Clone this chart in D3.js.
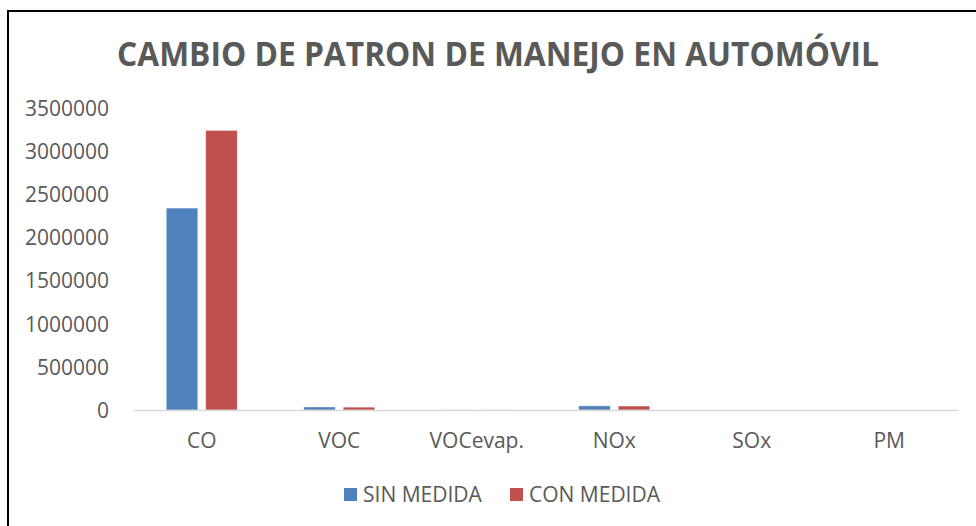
<!DOCTYPE html>
<html>
<head>
<meta charset="utf-8">
<script src="https://cdn.jsdelivr.net/npm/d3@7"></script>
<style>
  html, body { margin: 0; padding: 0; background: #fff; }
  svg { display: block; }
</style>
</head>
<body>
<svg id="chart" width="976" height="526"></svg>
<script>
const titleText = "CAMBIO DE PATRON DE MANEJO EN AUTOMÓVIL";
const categories = ["CO", "VOC", "VOCevap.", "NOx", "SOx", "PM"];
const seriesNames = ["SIN MEDIDA", "CON MEDIDA"];
const sinMedida = [2340000, 35000, 1000, 48000, 200, 400];
const conMedida = [3240000, 33000, 1000, 46000, 200, 400];
const yTicks = [0, 500000, 1000000, 1500000, 2000000, 2500000, 3000000, 3500000];
const colors = ["#4F81BD", "#C0504D"];

(function () {
const svg = d3.select("#chart");
const font = "'Open Sans', sans-serif";
const textColor = "#595959";

// outer frame (left and top edges visible)
svg.append("path")
  .attr("d", "M8,526 L8,11 L976,11")
  .attr("fill", "none").attr("stroke", "#000").attr("stroke-width", 2);

// title
svg.append("text")
  .attr("x", 117).attr("y", 66)
  .attr("textLength", 762).attr("lengthAdjust", "spacingAndGlyphs")
  .attr("font-family", font).attr("font-weight", "bold").attr("font-size", 34)
  .attr("fill", textColor)
  .text(titleText);

const pLeft = 133, pRight = 958, pTop = 108, pBottom = 410;
const x = d3.scaleBand().domain(categories).range([pLeft, pRight]).paddingInner(0).paddingOuter(0);
const y = d3.scaleLinear().domain([0, 3500000]).range([pBottom, pTop]);
const inner = d3.scaleBand().domain(seriesNames).range([0, 71]).paddingInner(0.2);

// y axis labels
const yAxis = d3.axisLeft(y).tickValues(yTicks).tickSize(0).tickPadding(0).tickFormat(d3.format("d"));
const gy = svg.append("g").attr("transform", "translate(109,0)").call(yAxis);
gy.select(".domain").remove();
gy.selectAll("text").attr("font-family", font).attr("font-size", 21).attr("fill", textColor).attr("dy", "0.35em");

// bars
const data = categories.map((c, i) => ({ cat: c, vals: [sinMedida[i], conMedida[i]] }));
const groups = svg.append("g").selectAll("g").data(data).join("g")
  .attr("transform", d => `translate(${x(d.cat) + x.bandwidth() / 2 - 35.5},0)`);
groups.selectAll("rect").data(d => d.vals.map((v, j) => ({ v, j }))).join("rect")
  .attr("x", d => inner(seriesNames[d.j]))
  .attr("width", inner.bandwidth())
  .attr("y", d => y(d.v))
  .attr("height", d => pBottom - y(d.v))
  .attr("fill", d => colors[d.j])
  .attr("stroke", "#fff").attr("stroke-opacity", 0.5).attr("stroke-width", 0.8);

// x axis baseline + labels
const xAxis = d3.axisBottom(x).tickSize(0).tickPadding(0);
const gx = svg.append("g").attr("transform", `translate(0,${pBottom})`).call(xAxis);
gx.select(".domain").attr("stroke", "#D9D9D9").attr("stroke-width", 1.5);
gx.selectAll("text").attr("font-family", font).attr("font-size", 21).attr("fill", textColor)
  .attr("dy", null).attr("y", 38);

// legend
const legendItems = [{ name: seriesNames[0], x: 344 }, { name: seriesNames[1], x: 510 }];
const lg = svg.append("g").selectAll("g").data(legendItems).join("g");
lg.append("rect").attr("x", d => d.x).attr("y", 488).attr("width", 13).attr("height", 13)
  .attr("fill", (d, i) => colors[i]);
lg.append("text").attr("x", d => d.x + 19).attr("y", 502)
  .attr("font-family", font).attr("font-size", 21).attr("fill", textColor)
  .text(d => d.name);
})();
</script>
</body>
</html>
